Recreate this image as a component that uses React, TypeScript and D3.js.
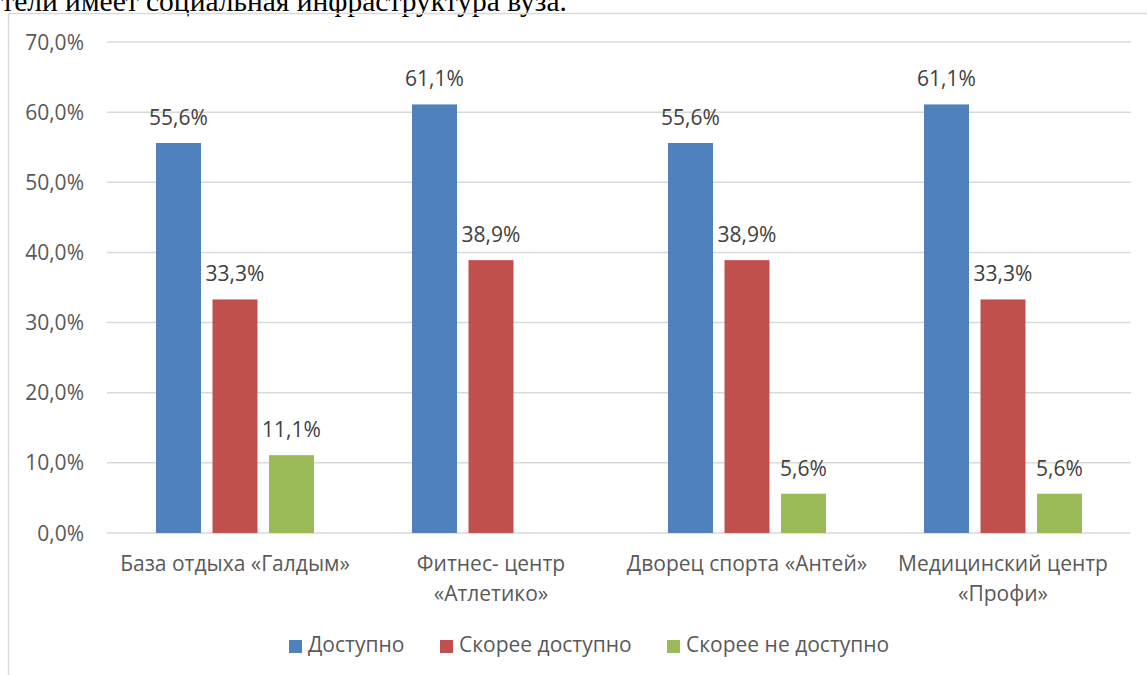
import React from "react";
import * as d3 from "d3";

const categories: string[][] = [
  ["База отдыха «Галдым»"],
  ["Фитнес- центр", "«Атлетико»"],
  ["Дворец спорта «Антей»"],
  ["Медицинский центр", "«Профи»"],
];
const seriesNames = ["Доступно", "Скорее доступно", "Скорее не доступно"];
const seriesColors = ["#4F81BD", "#C0504D", "#9BBB59"];
const available = [55.6, 61.1, 55.6, 61.1];
const ratherAvailable = [33.3, 38.9, 38.9, 33.3];
const ratherNot = [11.1, null, 5.6, 5.6];
const yTicks = [0, 10, 20, 30, 40, 50, 60, 70];

const W = 1147;
const H = 675;
const plotLeft = 107;
const plotRight = 1131;
const plotTop = 42;
const plotBottom = 533;
const font = "'Open Sans', sans-serif";
const textColor = "#595959";
const fs = 21;

export default function App() {
  const series = [available, ratherAvailable, ratherNot];
  const y = d3.scaleLinear().domain([0, 70]).range([plotBottom, plotTop]);
  const x0 = d3
    .scaleBand<number>()
    .domain(categories.map((_, i) => i))
    .range([plotLeft, plotRight])
    .paddingInner(0)
    .paddingOuter(0);
  const band = x0.bandwidth();
  const barW = 45;
  const step = 56.5;
  const fmt = (v: number) => v.toFixed(1).replace(".", ",") + "%";

  const legendX = [289, 440, 667];

  return (
    <div style={{ position: "fixed", left: 0, top: 0, width: W, height: H, background: "#fff" }}>
      <svg width={W} height={H} style={{ display: "block" }}>
        <rect x={0} y={0} width={W} height={H} fill="#fff" />
        <text
          x={567}
          y={11}
          textAnchor="end"
          fontFamily="'Liberation Serif', 'Times New Roman', serif"
          fontSize={29.5}
          fill="#000"
        >
          тели имеет социальная инфраструктура вуза.
        </text>
        <rect x={8.5} y={13.5} width={W + 10} height={H + 10} fill="none" stroke="#D9D9D9" strokeWidth={1.5} />
        {yTicks.map((t) => (
          <g key={t}>
            <line x1={plotLeft} x2={plotRight} y1={y(t)} y2={y(t)} stroke="#D9D9D9" strokeWidth={1.5} />
            <text
              x={84}
              y={y(t)}
              dy="0.36em"
              textAnchor="end"
              fontFamily={font}
              fontSize={fs}
              fill={textColor}
            >
              {t.toFixed(1).replace(".", ",") + "%"}
            </text>
          </g>
        ))}
        {categories.map((_, ci) => {
          const cx = (x0(ci) as number) + band / 2;
          return (
            <g key={ci}>
              {series.map((s, si) => {
                const v = s[ci];
                if (v === null || v === undefined) return null;
                const bx = cx + (si - 1) * step - barW / 2;
                return (
                  <g key={si}>
                    <rect x={bx} y={y(v)} width={barW} height={plotBottom - y(v)} fill={seriesColors[si]} />
                    <text
                      x={bx + barW / 2}
                      y={y(v) - 18}
                      textAnchor="middle"
                      fontFamily={font}
                      fontSize={fs}
                      fill="#404040"
                    >
                      {fmt(v)}
                    </text>
                  </g>
                );
              })}
            </g>
          );
        })}
        {categories.map((lines, ci) => {
          const cx = (x0(ci) as number) + band / 2;
          return (
            <text key={ci} textAnchor="middle" fontFamily={font} fontSize={fs} fill={textColor}>
              {lines.map((ln, li) => (
                <tspan key={li} x={cx} y={571 + li * 30}>
                  {ln}
                </tspan>
              ))}
            </text>
          );
        })}
        {seriesNames.map((n, i) => (
          <g key={n}>
            <rect x={legendX[i]} y={640} width={13} height={13} fill={seriesColors[i]} />
            <text x={legendX[i] + 19} y={652} fontFamily={font} fontSize={fs} fill={textColor}>
              {n}
            </text>
          </g>
        ))}
      </svg>
    </div>
  );
}
